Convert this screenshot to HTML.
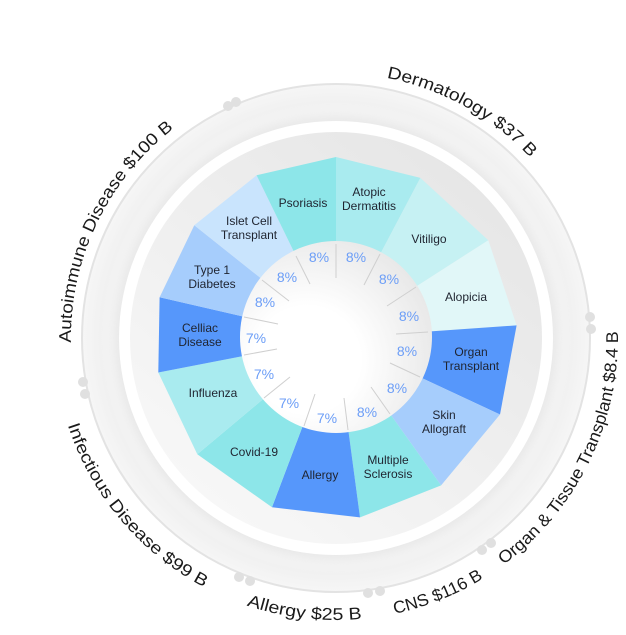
<!DOCTYPE html>
<html><head><meta charset="utf-8"><style>
html,body{margin:0;padding:0;background:#fff;}
svg{display:block;}
text{font-family:"Liberation Sans",sans-serif;}
</style></head><body>
<svg width="626" height="635" viewBox="0 0 626 635" xmlns="http://www.w3.org/2000/svg">
<defs>
<radialGradient id="gBand" cx="0.5" cy="0.5" r="0.5">
<stop offset="0.80" stop-color="#f9f9f9"/>
<stop offset="0.93" stop-color="#f1f1f1"/>
<stop offset="1" stop-color="#f6f6f6"/>
</radialGradient>
<linearGradient id="gInner" x1="0.85" y1="0.1" x2="0.2" y2="0.9">
<stop offset="0" stop-color="#e6e6e6"/>
<stop offset="1" stop-color="#f7f7f7"/>
</linearGradient>
<radialGradient id="gHole" cx="0.35" cy="0.62" r="0.8">
<stop offset="0.35" stop-color="#ffffff"/>
<stop offset="1" stop-color="#e2e2e2"/>
</radialGradient>
<filter id="sh" x="-20%" y="-20%" width="140%" height="140%"><feGaussianBlur stdDeviation="5"/></filter>
<path id="p1" d="M71.0,342.6 A265,265 0 0 1 180.2,123.6"/>
<path id="p2" d="M386.6,77.9 A265,265 0 0 1 536.0,164.1"/>
<path id="p3" d="M503.7,564.7 A282,282 0 0 0 617.7,325.7"/>
<path id="p4" d="M394.6,613.8 A282,282 0 0 0 485.4,577.1"/>
<path id="p5" d="M246.5,605.4 A282,282 0 0 0 363.0,618.7"/>
<path id="p6" d="M67.8,425.1 A282,282 0 0 0 205.8,588.1"/>
</defs>

<!-- background rings -->
<circle cx="336" cy="338" r="254" fill="url(#gBand)"/>
<circle cx="336" cy="338" r="222" fill="#e8e8e8" filter="url(#sh)"/>
<circle cx="336" cy="338" r="217" fill="#ffffff"/>
<circle cx="336" cy="338" r="206" fill="url(#gInner)"/>
<circle cx="336" cy="338" r="254" fill="none" stroke="#e3e3e3" stroke-width="2"/>

<!-- ring dots -->
<g fill="#e0e0e0">
<circle cx="228" cy="106" r="5"/><circle cx="236" cy="102" r="5"/>
<circle cx="83" cy="382" r="5"/><circle cx="85" cy="394" r="5"/>
<circle cx="590" cy="317" r="5"/><circle cx="591" cy="329" r="5"/>
<circle cx="482" cy="550" r="5"/><circle cx="491" cy="543" r="5"/>
<circle cx="368" cy="593" r="5"/><circle cx="380" cy="591" r="5"/>
<circle cx="239" cy="577" r="5"/><circle cx="250" cy="581" r="5"/>
</g>

<!-- slices -->
<g>
<path d="M336,338 L336,157 L420.4,177.9Z" fill="#a9ebef"/>
<path d="M336,338 L420.4,177.9 L488.3,240.2Z" fill="#c6f1f3"/>
<path d="M336,338 L488.3,240.2 L516.6,325.4Z" fill="#e1f7f8"/>
<path d="M336,338 L516.6,325.4 L500.0,414.5Z" fill="#5697fb"/>
<path d="M336,338 L500.0,414.5 L441.1,485.4Z" fill="#a6cdfc"/>
<path d="M336,338 L441.1,485.4 L360.0,517.4Z" fill="#8de6e9"/>
<path d="M336,338 L360.0,517.4 L272.0,507.3Z" fill="#5697fb"/>
<path d="M336,338 L272.0,507.3 L197.3,454.3Z" fill="#8de6e9"/>
<path d="M336,338 L197.3,454.3 L158.3,372.5Z" fill="#a9ebef"/>
<path d="M336,338 L158.3,372.5 L159.6,297.3Z" fill="#5697fb"/>
<path d="M336,338 L159.6,297.3 L194.3,225.3Z" fill="#a6cdfc"/>
<path d="M336,338 L194.3,225.3 L256.6,175.3Z" fill="#c9e4fd"/>
<path d="M336,338 L256.6,175.3 L336,157Z" fill="#8de6e9"/>
</g>

<!-- inner hole -->
<circle cx="336" cy="337" r="96" fill="url(#gHole)"/>
<g stroke="#cfcfcf" stroke-width="1">
<line x1="336" y1="278" x2="336" y2="244"/>
<line x1="364" y1="285" x2="380" y2="254"/>
<line x1="387" y1="306" x2="416" y2="287"/>
<line x1="396" y1="334" x2="428" y2="332"/>
<line x1="390" y1="363" x2="420" y2="377"/>
<line x1="371" y1="387" x2="390" y2="414"/>
<line x1="344" y1="398" x2="348" y2="430"/>
<line x1="315" y1="394" x2="304" y2="426"/>
<line x1="290" y1="377" x2="264" y2="398"/>
<line x1="277" y1="349" x2="244" y2="355"/>
<line x1="278" y1="324" x2="244" y2="317"/>
<line x1="289" y1="301" x2="262" y2="280"/>
<line x1="310" y1="284" x2="296" y2="256"/>
</g>

<!-- percent labels -->
<g fill="#6c9ef7" font-size="14" text-anchor="middle" dominant-baseline="central">
<text x="319" y="257">8%</text>
<text x="356" y="257">8%</text>
<text x="389" y="279">8%</text>
<text x="409" y="316">8%</text>
<text x="407" y="351">8%</text>
<text x="397" y="388">8%</text>
<text x="367" y="412">8%</text>
<text x="327" y="418">7%</text>
<text x="289" y="403">7%</text>
<text x="264" y="374">7%</text>
<text x="256" y="338">7%</text>
<text x="265" y="302">8%</text>
<text x="287" y="277">8%</text>
</g>

<!-- slice labels -->
<g fill="#1f2430" font-size="12" text-anchor="middle" dominant-baseline="central">
<text x="303" y="203">Psoriasis</text>
<text x="369" y="192">Atopic</text><text x="369" y="206">Dermatitis</text>
<text x="429" y="239">Vitiligo</text>
<text x="466" y="297">Alopicia</text>
<text x="471" y="352">Organ</text><text x="471" y="366">Transplant</text>
<text x="444" y="415">Skin</text><text x="444" y="429">Allograft</text>
<text x="388" y="460">Multiple</text><text x="388" y="474">Sclerosis</text>
<text x="320" y="475">Allergy</text>
<text x="254" y="452">Covid-19</text>
<text x="213" y="393">Influenza</text>
<text x="200" y="328">Celliac</text><text x="200" y="342">Disease</text>
<text x="212" y="270">Type 1</text><text x="212" y="284">Diabetes</text>
<text x="249" y="221">Islet Cell</text><text x="249" y="235">Transplant</text>
</g>

<!-- curved labels -->
<g fill="#1a1a1a" font-size="17">
<text><textPath href="#p1" textLength="246" lengthAdjust="spacingAndGlyphs">Autoimmune Disease $100 B</textPath></text>
<text><textPath href="#p2" textLength="167" lengthAdjust="spacingAndGlyphs">Dermatology $37 B</textPath></text>
<text><textPath href="#p3" textLength="270" lengthAdjust="spacingAndGlyphs">Organ &amp; Tissue Transplant $8.4 B</textPath></text>
<text><textPath href="#p4" textLength="96" lengthAdjust="spacingAndGlyphs">CNS $116 B</textPath></text>
<text><textPath href="#p5" textLength="117" lengthAdjust="spacingAndGlyphs">Allergy $25 B</textPath></text>
<text><textPath href="#p6" textLength="217" lengthAdjust="spacingAndGlyphs">Infectious Disease $99 B</textPath></text>
</g>
</svg>
</body></html>
